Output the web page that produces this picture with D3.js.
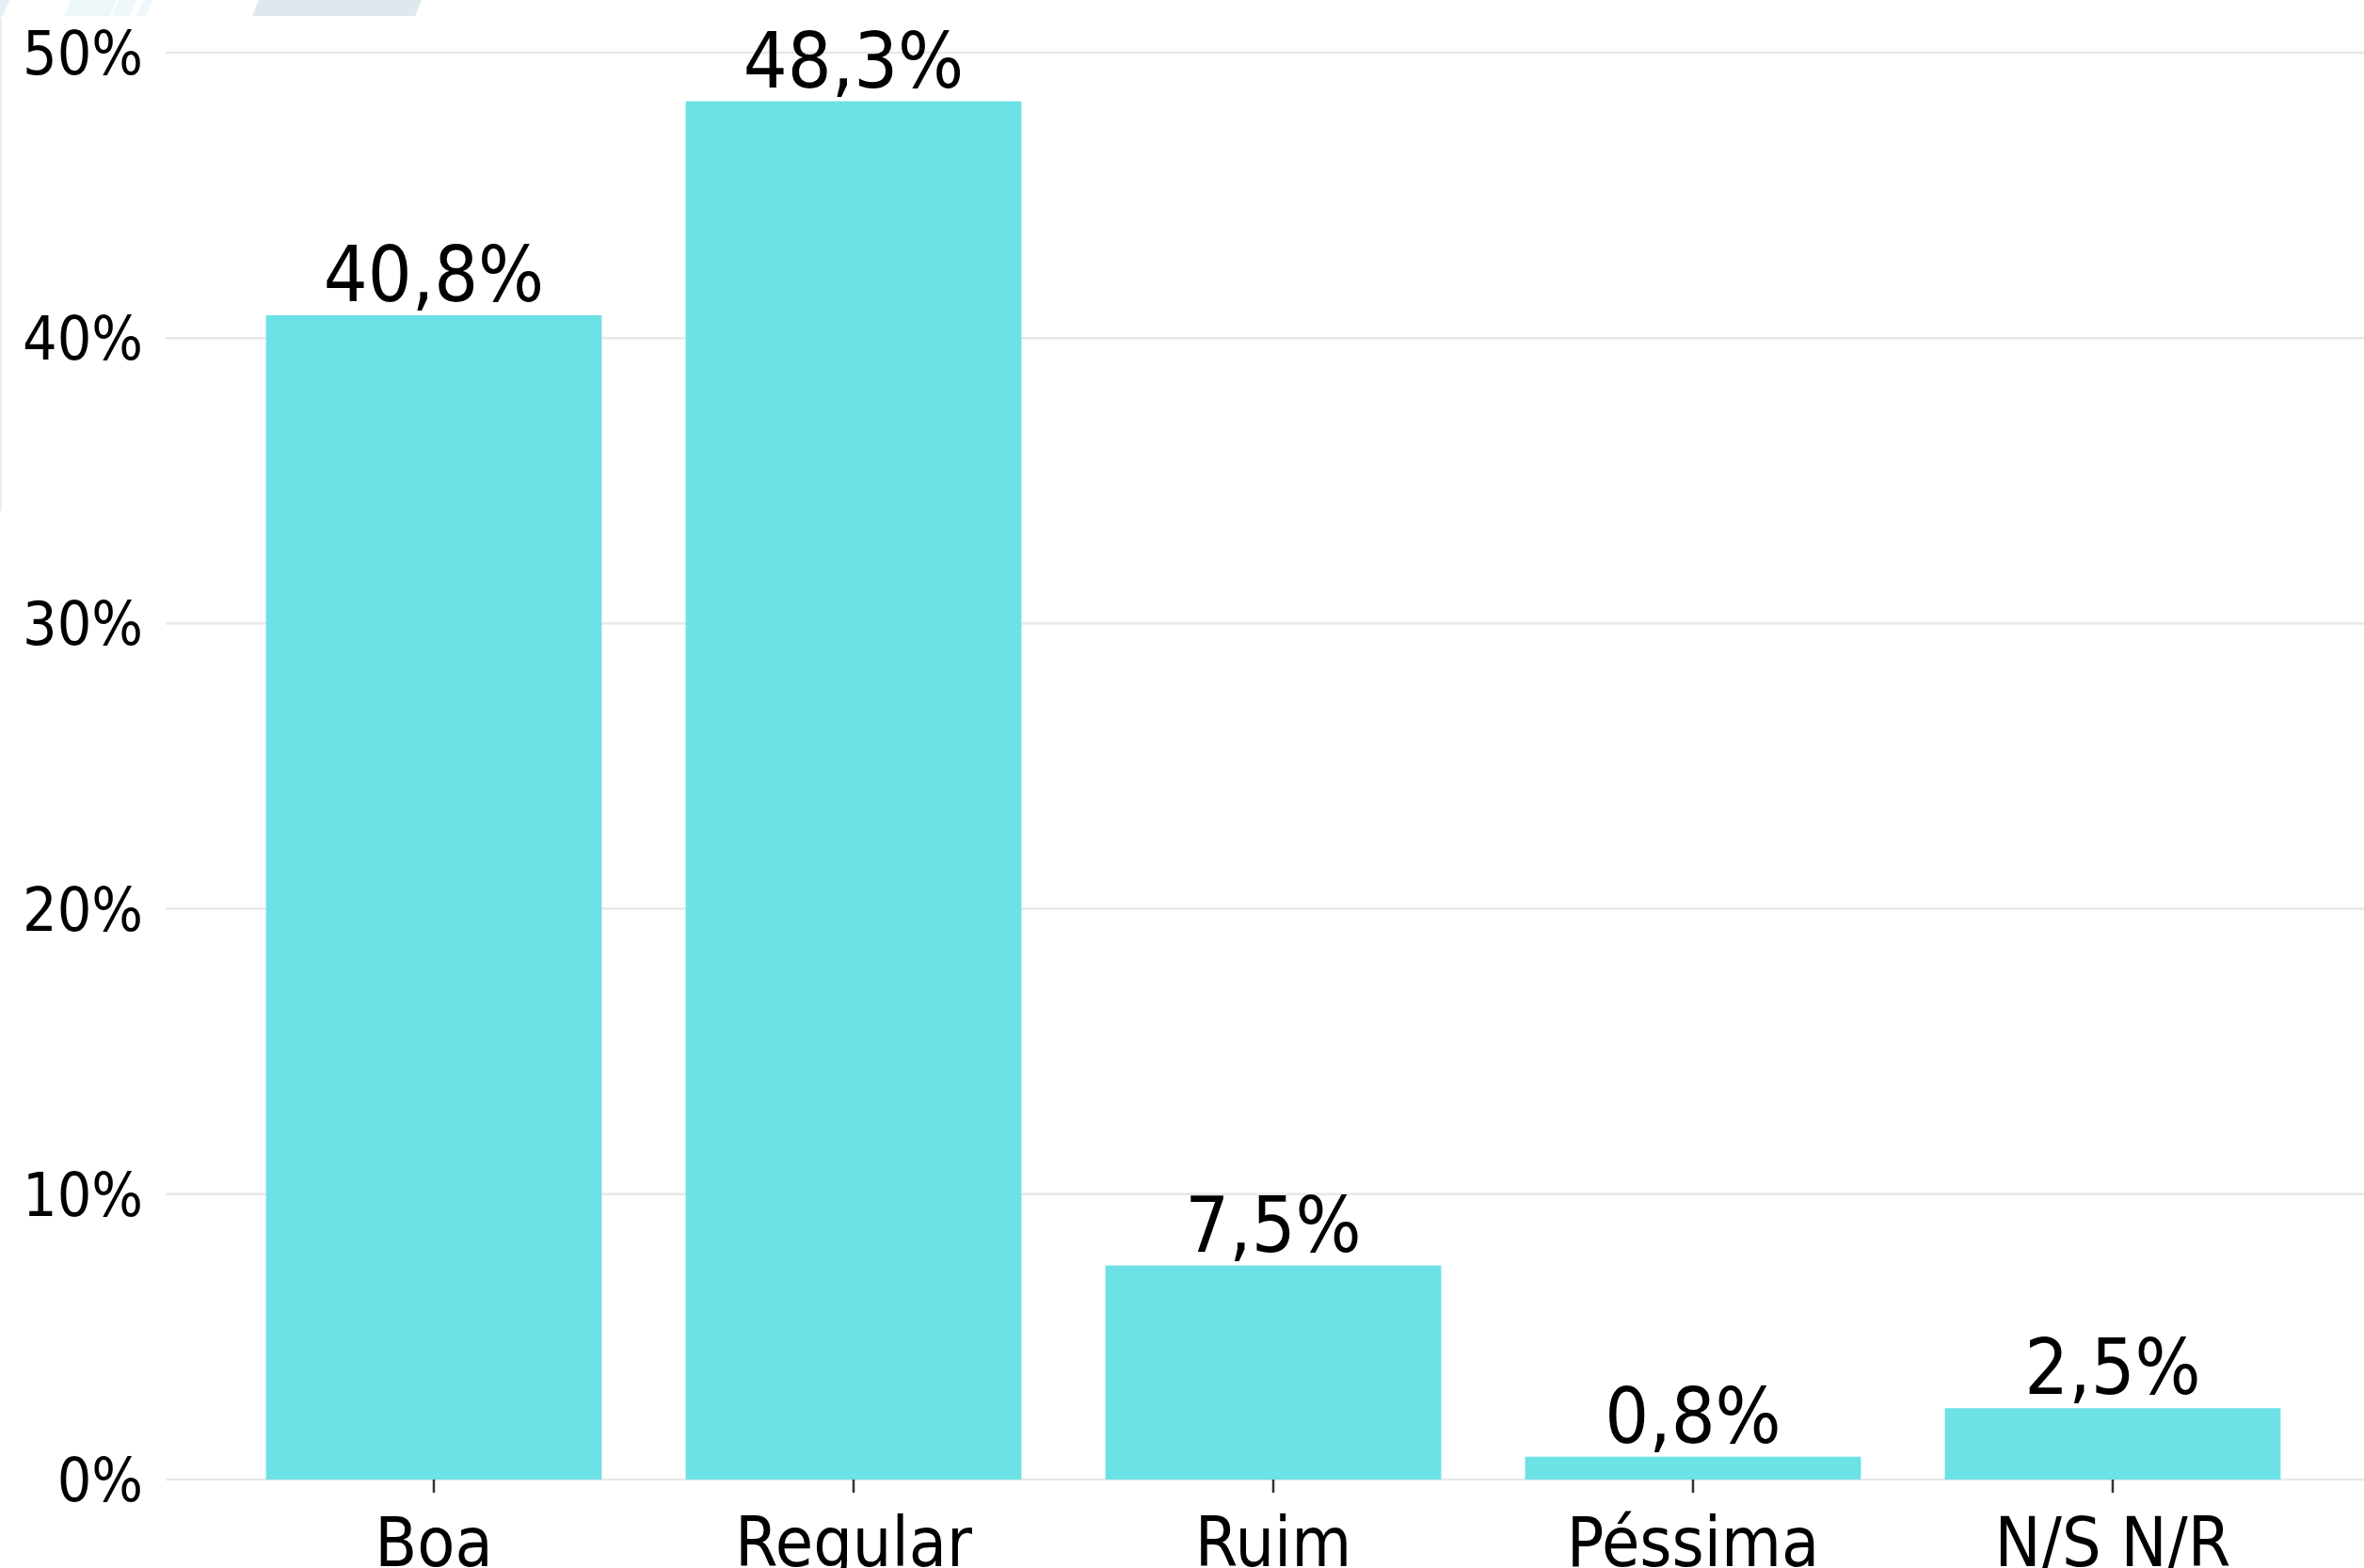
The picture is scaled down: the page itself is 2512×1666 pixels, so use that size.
<!DOCTYPE html>
<html>
<head>
<meta charset="utf-8">
<script src="https://cdnjs.cloudflare.com/ajax/libs/d3/7.9.0/d3.min.js"></script>
<style>
  html, body { margin: 0; padding: 0; background: #ffffff; overflow: hidden; }
  svg { display: block; }
  text { font-family: "DejaVu Sans", sans-serif; fill: #000; }
</style>
</head>
<body>
<div id="grafico"></div>
<script>
// dados
const categorias = ["Boa", "Regular", "Ruim", "Péssima", "N/S N/R"];
const valores    = [40.8, 48.3, 7.5, 0.8, 2.5];
const ticksY     = [0, 10, 20, 30, 40, 50];

const LARGURA = 2512, ALTURA = 1666;
const COR_BARRA = "#6ce1e6";
const COR_GRADE = "#e8e8e8";
const ESTREITO  = 0.9; // o texto do original é um pouco comprimido na horizontal

const svg = d3.select("#grafico").append("svg")
  .attr("width", LARGURA)
  .attr("height", ALTURA);

// restos do fundo da página (faixas claras no topo)
const faixas = [
  { pts: [[275, 0], [448, 0], [441, 17], [268, 17]], cor: "#dfe8ec" },
  { pts: [[75, 0], [124, 0], [117, 17], [68, 17]], cor: "#eef8fa" },
  { pts: [[126, 0], [145, 0], [138, 17], [119, 17]], cor: "#eef8fa" },
  { pts: [[152, 0], [162, 0], [155, 17], [145, 17]], cor: "#eef8fa" },
  { pts: [[0, 0], [10, 0], [3, 17], [0, 17]], cor: "#e4eff3" },
];
svg.append("g").selectAll("polygon")
  .data(faixas)
  .join("polygon")
  .attr("points", d => d.pts.map(p => p.join(",")).join(" "))
  .attr("fill", d => d.cor);
svg.append("rect").attr("x", 0).attr("y", 18).attr("width", 2).attr("height", 525).attr("fill", "#e6eef1");

// escalas: passo de 446 px por categoria, barras com 80% do passo
const x = d3.scaleBand()
  .domain(categorias)
  .range([461 - 223, 461 - 223 + 5 * 446])
  .paddingInner(0.2)
  .paddingOuter(0.1);

const y = d3.scaleLinear()
  .domain([0, 50])
  .range([1572, 56]);

// grade horizontal
svg.append("g").selectAll("line")
  .data(ticksY)
  .join("line")
  .attr("x1", 176)
  .attr("x2", LARGURA)
  .attr("y1", d => y(d))
  .attr("y2", d => y(d))
  .attr("stroke", COR_GRADE)
  .attr("stroke-width", 2.5);

// rótulos do eixo y
svg.append("g").selectAll("text")
  .data(ticksY)
  .join("text")
  .attr("transform", d => `translate(152,${y(d) + 23}) scale(${ESTREITO},1)`)
  .attr("text-anchor", "end")
  .style("font-size", "64px")
  .text(d => d + "%");

// barras
svg.append("g").selectAll("rect")
  .data(valores)
  .join("rect")
  .attr("x", (d, i) => x(categorias[i]))
  .attr("width", x.bandwidth())
  .attr("y", d => y(d))
  .attr("height", d => y(0) - y(d))
  .attr("fill", COR_BARRA);

// marcas do eixo x
svg.append("g").selectAll("line")
  .data(categorias)
  .join("line")
  .attr("x1", d => x(d) + x.bandwidth() / 2)
  .attr("x2", d => x(d) + x.bandwidth() / 2)
  .attr("y1", y(0))
  .attr("y2", y(0) + 14)
  .attr("stroke", "#333")
  .attr("stroke-width", 2.5);

// rótulos das categorias (no original ficam rente à borda inferior)
svg.append("g").selectAll("text")
  .data(categorias)
  .join("text")
  .attr("transform", d => `translate(${x(d) + x.bandwidth() / 2},1664) scale(${ESTREITO},1)`)
  .attr("text-anchor", "middle")
  .style("font-size", "73px")
  .text(d => d);

// valores acima das barras
const fmt = v => v.toFixed(1).replace(".", ",") + "%";
svg.append("g").selectAll("text")
  .data(valores)
  .join("text")
  .attr("transform", (d, i) => `translate(${x(categorias[i]) + x.bandwidth() / 2},${y(d) - 15}) scale(${ESTREITO},1)`)
  .attr("text-anchor", "middle")
  .style("font-size", "82px")
  .text(d => fmt(d));
</script>
</body>
</html>
